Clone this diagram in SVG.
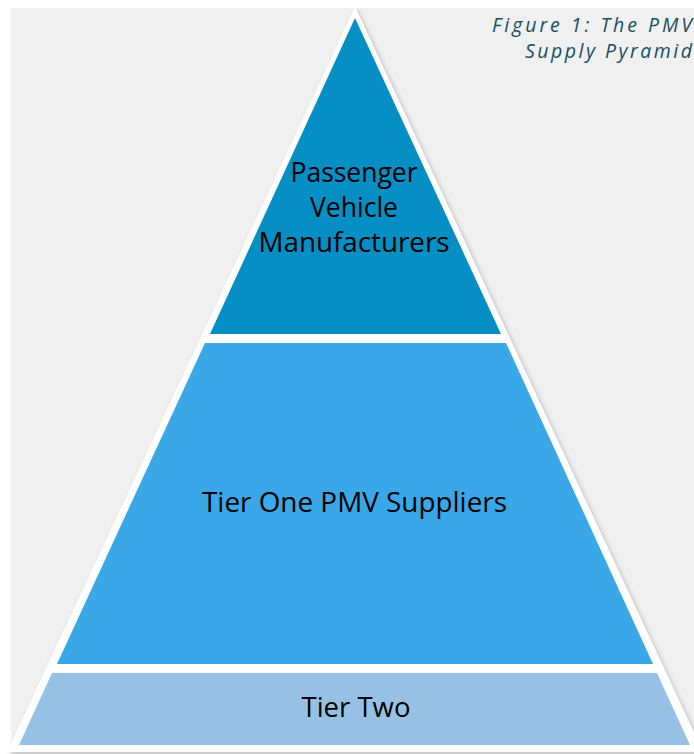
<svg xmlns="http://www.w3.org/2000/svg" width="694" height="754" viewBox="0 0 694 754">
  <style>
    .label { font-family: "Open Sans", "Noto Sans", "Liberation Sans", sans-serif; font-size: 26.5px; fill: #000000; text-anchor: middle; }
    .caption { font-family: "Open Sans", "Noto Sans", "Liberation Sans", sans-serif; font-size: 19.5px; font-style: italic; fill: #174f62; text-anchor: end; }
    .tier-top { fill: #058fc5; }
    .tier-mid { fill: #39a7e8; }
    .tier-base { fill: #96c1e4; }
  </style>
  <defs>
    <filter id="softShadow" x="-5%" y="-5%" width="110%" height="110%">
      <feGaussianBlur in="SourceAlpha" stdDeviation="2.5"/>
      <feOffset dx="2" dy="2" result="blur"/>
      <feComponentTransfer><feFuncA type="linear" slope="0.22"/></feComponentTransfer>
      <feMerge><feMergeNode/><feMergeNode in="SourceGraphic"/></feMerge>
    </filter>
  </defs>

  <!-- page background -->
  <rect x="0" y="0" width="694" height="754" fill="#ffffff"/>
  <rect x="11" y="8" width="683" height="746" fill="#f0f0f0"/>

  <!-- caption, right aligned against the page edge -->
  <text class="caption" x="692" y="32" textLength="200" lengthAdjust="spacing">Figure 1: The PMV</text>
  <text class="caption" x="692" y="58" textLength="167" lengthAdjust="spacing">Supply Pyramid</text>

  <!-- white pyramid body behind the tiers -->
  <polygon points="355,7 7,752 703,752" fill="#ffffff" filter="url(#softShadow)"/>

  <g id="tier-manufacturers">
    <polygon class="tier-top" points="355,18 210,334 501,334"/>
    <text class="label" x="354" y="182" textLength="127" lengthAdjust="spacingAndGlyphs">Passenger</text>
    <text class="label" x="354" y="217" textLength="88" lengthAdjust="spacingAndGlyphs">Vehicle</text>
    <text class="label" x="354" y="252" textLength="191" lengthAdjust="spacingAndGlyphs">Manufacturers</text>
  </g>

  <g id="tier-one">
    <polygon class="tier-mid" points="205,343 506,343 653,664 57,664"/>
    <text class="label" x="354.5" y="512" textLength="305" lengthAdjust="spacingAndGlyphs">Tier One PMV Suppliers</text>
  </g>

  <g id="tier-two">
    <polygon class="tier-base" points="52,673 657,673 690,745 19,745"/>
    <text class="label" x="356" y="717" textLength="109" lengthAdjust="spacingAndGlyphs">Tier Two</text>
  </g>
</svg>
